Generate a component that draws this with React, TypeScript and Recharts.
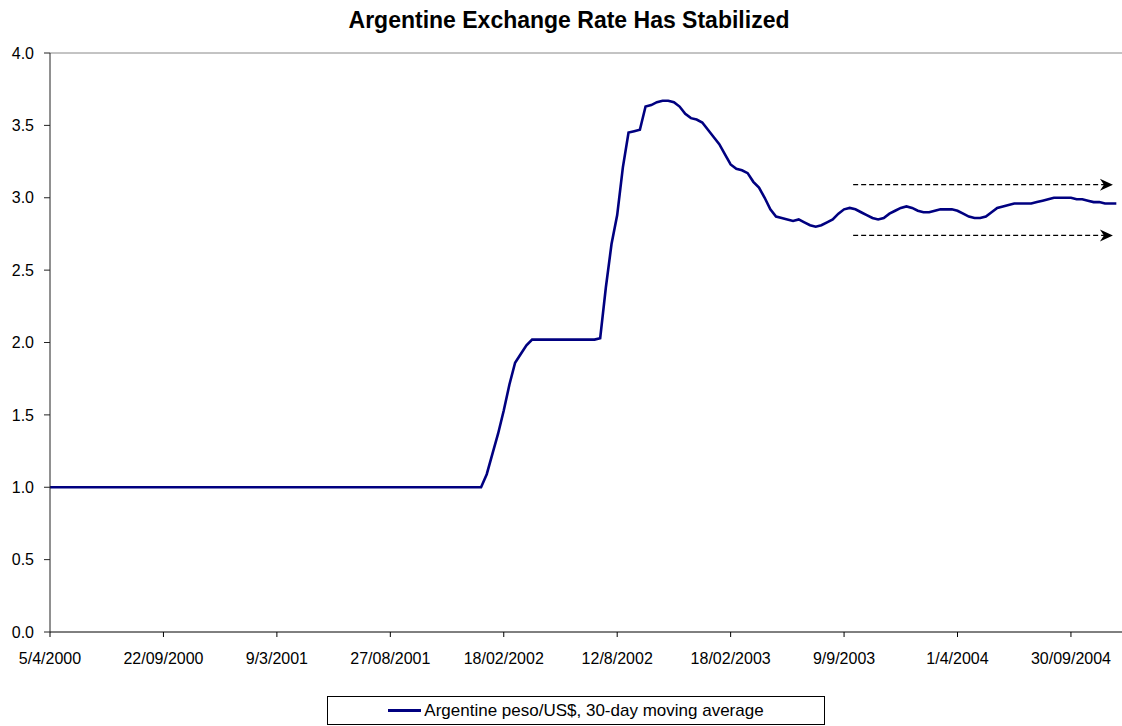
import { LineChart, Line, XAxis, YAxis, ReferenceLine } from "recharts";

// x tick labels, one every 20 points
const TICK_LABELS = [
  "5/4/2000",
  "22/09/2000",
  "9/3/2001",
  "27/08/2001",
  "18/02/2002",
  "12/8/2002",
  "18/02/2003",
  "9/9/2003",
  "1/4/2004",
  "30/09/2004",
];
const TICK_POS = [0, 20, 40, 60, 80, 100, 120, 140, 160, 180];

// peso per US$, 30-day moving average
const RATE = [
  1.0, 1.0, 1.0, 1.0, 1.0, 1.0, 1.0, 1.0, 1.0, 1.0, 1.0,
  1.0, 1.0, 1.0, 1.0, 1.0, 1.0, 1.0, 1.0, 1.0, 1.0, 1.0,
  1.0, 1.0, 1.0, 1.0, 1.0, 1.0, 1.0, 1.0, 1.0, 1.0, 1.0,
  1.0, 1.0, 1.0, 1.0, 1.0, 1.0, 1.0, 1.0, 1.0, 1.0, 1.0,
  1.0, 1.0, 1.0, 1.0, 1.0, 1.0, 1.0, 1.0, 1.0, 1.0, 1.0,
  1.0, 1.0, 1.0, 1.0, 1.0, 1.0, 1.0, 1.0, 1.0, 1.0, 1.0,
  1.0, 1.0, 1.0, 1.0, 1.0, 1.0, 1.0, 1.0, 1.0, 1.0, 1.0,
  1.09, 1.23, 1.37, 1.53, 1.71, 1.86, 1.92, 1.98, 2.02,
  2.02, 2.02, 2.02, 2.02, 2.02, 2.02, 2.02, 2.02, 2.02, 2.02, 2.02,
  2.03, 2.38, 2.68, 2.88, 3.21, 3.45, 3.46, 3.47, 3.63, 3.64,
  3.66, 3.67, 3.67, 3.66, 3.63, 3.58, 3.55, 3.54, 3.52, 3.47,
  3.42, 3.37, 3.3, 3.23, 3.2, 3.19, 3.17, 3.11, 3.07, 3.0,
  2.92, 2.87, 2.86, 2.85, 2.84, 2.85, 2.83, 2.81, 2.8, 2.81,
  2.83, 2.85, 2.89, 2.92, 2.93, 2.92, 2.9, 2.88, 2.86, 2.85,
  2.86, 2.89, 2.91, 2.93, 2.94, 2.93, 2.91, 2.9, 2.9, 2.91,
  2.92, 2.92, 2.92, 2.91, 2.89, 2.87, 2.86, 2.86, 2.87, 2.9,
  2.93, 2.94, 2.95, 2.96, 2.96, 2.96, 2.96, 2.97, 2.98, 2.99,
  3.0, 3.0, 3.0, 3.0, 2.99, 2.99, 2.98, 2.97, 2.97, 2.96,
  2.96, 2.96,
];

const Y_TICKS = [0, 0.5, 1, 1.5, 2, 2.5, 3, 3.5, 4];

// the two dashed "range" arrows
const BAND_TOP = 3.09;
const BAND_BOTTOM = 2.74;
const BAND_FROM = 141.6;
const BAND_TO = 187.4;

const data = RATE.map((v, i) => ({ i, rate: v }));

const font = "'Liberation Sans', Arial, sans-serif";

function DashedArrow(props: any) {
  const { x1, y1, x2, y2 } = props;
  return (
    <g>
      <line
        x1={x1}
        y1={y1}
        x2={x2 - 9}
        y2={y2}
        stroke="#000"
        strokeWidth={1.3}
        strokeDasharray="5 3"
      />
      <polygon
        points={`${x2},${y2} ${x2 - 13},${y2 - 6} ${x2 - 9},${y2} ${x2 - 13},${y2 + 6}`}
        fill="#000"
      />
    </g>
  );
}

export default function App() {
  return (
    <div
      style={{
        position: "relative",
        width: 1122,
        height: 726,
        background: "#fff",
        fontFamily: font,
      }}
    >
      <style>{`body{margin:0}`}</style>
      <div
        style={{
          position: "absolute",
          top: 7,
          left: 0,
          width: 1138,
          textAlign: "center",
          fontSize: 23,
          fontWeight: "bold",
          lineHeight: "26px",
        }}
      >
        Argentine Exchange Rate Has Stabilized
      </div>

      <LineChart
        width={1122}
        height={726}
        data={data}
        margin={{ top: 53, right: 0, bottom: 64, left: 0 }}
        style={{ position: "absolute", top: 0, left: 0 }}
      >
        <XAxis
          dataKey="i"
          type="number"
          domain={[0, 189]}
          ticks={TICK_POS}
          tickFormatter={(v) => TICK_LABELS[TICK_POS.indexOf(v)] ?? ""}
          height={30}
          tickSize={5}
          tickMargin={16}
          axisLine={{ stroke: "#000" }}
          tickLine={{ stroke: "#000" }}
          tick={{ fill: "#000", fontSize: 16, fontFamily: font }}
          interval={0}
        />
        <YAxis
          domain={[0, 4]}
          ticks={Y_TICKS}
          tickFormatter={(v) => Number(v).toFixed(1)}
          width={50}
          tickSize={6}
          tickMargin={10}
          axisLine={{ stroke: "#222" }}
          tickLine={{ stroke: "#222" }}
          tick={{ fill: "#000", fontSize: 16, fontFamily: font }}
          interval={0}
        />
        <ReferenceLine y={4} stroke="#888" strokeWidth={1} />
        <ReferenceLine
          segment={[
            { x: BAND_FROM, y: BAND_TOP },
            { x: BAND_TO, y: BAND_TOP },
          ]}
          shape={DashedArrow}
        />
        <ReferenceLine
          segment={[
            { x: BAND_FROM, y: BAND_BOTTOM },
            { x: BAND_TO, y: BAND_BOTTOM },
          ]}
          shape={DashedArrow}
        />
        <Line
          type="linear"
          dataKey="rate"
          stroke="#000080"
          strokeWidth={2.6}
          dot={false}
          isAnimationActive={false}
        />
      </LineChart>

      {/* Legend */}
      <div
        style={{
          position: "absolute",
          left: 327,
          top: 696,
          width: 496,
          height: 27,
          border: "1px solid #000",
          display: "flex",
          alignItems: "center",
          justifyContent: "center",
          fontSize: 17,
        }}
      >
        <span
          style={{
            display: "inline-block",
            width: 33,
            height: 2.5,
            background: "#000080",
            marginRight: 3,
          }}
        />
        <span>Argentine peso/US$, 30-day moving average</span>
      </div>
    </div>
  );
}
